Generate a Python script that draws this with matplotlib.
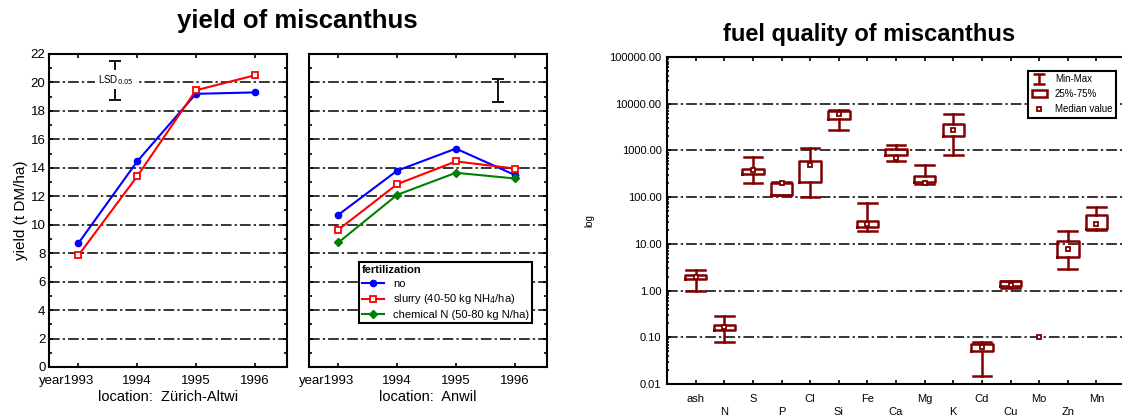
import numpy as np
import matplotlib
matplotlib.use('Agg')
import matplotlib.pyplot as plt
from matplotlib.patches import Patch
from matplotlib.lines import Line2D
from matplotlib.ticker import MultipleLocator, LogLocator, FixedLocator, NullFormatter
from matplotlib.transforms import ScaledTranslation

plt.rcParams['font.family'] = ['Liberation Sans', 'DejaVu Sans']

# yield data (t DM/ha)
years = [1993, 1994, 1995, 1996]
zurich_no = [8.7, 14.45, 19.2, 19.3]
zurich_slurry = [7.85, 13.4, 19.45, 20.5]
anwil_no = [10.7, 13.8, 15.35, 13.5]
anwil_slurry = [9.65, 12.85, 14.45, 13.95]
anwil_chem = [8.75, 12.1, 13.65, 13.25]
lsd_zurich = (1993.63, 18.8, 21.5)
lsd_anwil = (1995.71, 18.6, 20.25)

# fuel quality data
elements = ['ash', 'N', 'S', 'P', 'Cl', 'Si', 'Fe', 'Ca', 'Mg', 'K', 'Cd', 'Cu', 'Mo', 'Zn', 'Mn']
mins = [1.0, 0.078, 199, 109, 100, 2800, 19, 585, 192, 780, 0.015, 1.12, 0.1, 2.94, 20]
q1s = [1.77, 0.141, 316, 110, 215, 4600, 22.6, 780, 209, 2040, 0.052, 1.26, 0.1, 5.3, 21]
q3s = [2.2, 0.186, 400, 205, 585, 7100, 31.5, 1070, 290, 3750, 0.073, 1.6, 0.1, 11.6, 42]
maxs = [2.7, 0.28, 710, 210, 1140, 7400, 75, 1280, 480, 6100, 0.078, 1.63, 0.1, 19, 61]
medians = [2.0, 0.166, 380, 199, 480, 6100, 27, 700, 199, 2800, 0.062, 1.32, 0.1, 7.8, 26]

grid_ls = (0, (7, 2, 1.5, 2))
dark = '#800000'

fig = plt.figure(figsize=(11.22, 4.15), dpi=100)
ax1 = fig.add_axes([0.0437, 0.1157, 0.2121, 0.7542])
ax2 = fig.add_axes([0.2754, 0.1157, 0.2121, 0.7542])
ax3 = fig.add_axes([0.5945, 0.0747, 0.4082, 0.788])


def style_yield(ax, xlabel):
    ax.set_xlim(1992.5, 1996.55)
    ax.set_ylim(0, 22)
    ax.set_xticks(years)
    ax.set_xticklabels(['year1993'] + [str(y) for y in years[1:]])
    ax.yaxis.set_major_locator(MultipleLocator(2))
    ax.yaxis.set_minor_locator(MultipleLocator(1))
    ax.tick_params(which='both', direction='in', top=True, right=True, labelsize=9.5, width=1.2)
    ax.tick_params(which='major', length=3, pad=2.5)
    ax.tick_params(axis='x', which='major', pad=6)
    ax.tick_params(which='minor', length=2)
    ax.grid(axis='y', which='major', color='black', linestyle=grid_ls, linewidth=1.1)
    ax.set_axisbelow(True)
    for sp in ax.spines.values():
        sp.set_linewidth(1.5)
    ax.set_xlabel(xlabel, fontsize=10.5, labelpad=2)
    # "year" hangs to the left of the first year
    lab = ax.get_xticklabels()[0]
    lab.set_transform(lab.get_transform() + ScaledTranslation(-0.115, 0, fig.dpi_scale_trans))


def lsd_bar(ax, x, lo, hi):
    ax.errorbar([x], [(lo + hi) / 2], yerr=[(hi - lo) / 2], fmt='none', ecolor='black',
                elinewidth=1.3, capsize=4, capthick=1.3, zorder=5)


# Zurich
ax1.plot(years, zurich_no, color='#0000ff', lw=1.5, marker='o', ms=4.5)
ax1.plot(years, zurich_slurry, color='#ff0000', lw=1.5, marker='s', ms=4.5, mfc='white', mew=1.3)
lsd_bar(ax1, *lsd_zurich)
ax1.text(lsd_zurich[0], 20.2, r'LSD$_{0.05}$', ha='center', va='center', fontsize=7,
         bbox=dict(facecolor='white', edgecolor='none', pad=2), zorder=6)
style_yield(ax1, 'location:  Zürich-Altwi')
ax1.set_ylabel('yield (t DM/ha)', fontsize=11, labelpad=2)

# Anwil
ax2.plot(years, anwil_no, color='#0000ff', lw=1.5, marker='o', ms=4.5, label='no')
ax2.plot(years, anwil_slurry, color='#ff0000', lw=1.5, marker='s', ms=4.5, mfc='white', mew=1.3,
         label='slurry (40-50 kg NH$_4$/ha)')
ax2.plot(years, anwil_chem, color='#008000', lw=1.5, marker='D', ms=4, label='chemical N (50-80 kg N/ha)')
lsd_bar(ax2, *lsd_anwil)
style_yield(ax2, 'location:  Anwil')
ax2.tick_params(labelleft=False)
leg = ax2.legend(loc='lower left', bbox_to_anchor=(0.21, 0.14), fontsize=8, title='fertilization',
                 title_fontproperties={'weight': 'bold', 'size': 8}, fancybox=False,
                 edgecolor='black', framealpha=1, handlelength=2, handletextpad=0.8,
                 borderpad=0.25, labelspacing=0.35, borderaxespad=0)
leg._legend_box.align = 'left'
leg.get_frame().set_linewidth(1.5)

fig.text(0.265, 0.95, 'yield of miscanthus', ha='center', va='center', fontsize=18.5, fontweight='bold')

# fuel quality boxes
positions = list(range(1, len(elements) + 1))
stats = []
box_pos = []
for i in range(len(elements)):
    if maxs[i] > mins[i]:
        stats.append(dict(med=medians[i], q1=q1s[i], q3=q3s[i], whislo=mins[i], whishi=maxs[i], fliers=[]))
        box_pos.append(positions[i])
props = dict(color=dark, linewidth=1.8)
ax3.bxp(stats, positions=box_pos, widths=0.75, capwidths=0.65, showfliers=False,
        boxprops=props, whiskerprops=props, capprops=props,
        medianprops=dict(linewidth=0), manage_ticks=False)
ax3.plot(positions, medians, ls='none', marker='s', ms=3.5, mfc='white', mec=dark, mew=1.3)

ax3.set_yscale('log')
ax3.set_ylim(0.01, 100000)
ax3.set_xlim(0, 16)
yt = [0.01, 0.1, 1, 10, 100, 1000, 10000, 100000]
ax3.yaxis.set_major_locator(FixedLocator(yt))
ax3.set_yticklabels(['%.2f' % v for v in yt])
ax3.yaxis.set_minor_locator(LogLocator(base=10, subs=np.arange(2, 10)))
ax3.yaxis.set_minor_formatter(NullFormatter())
ax3.set_xticks(positions)
ax3.set_xticklabels([e if i % 2 == 0 else '\n' + e for i, e in enumerate(elements)], linespacing=1.4)
ax3.tick_params(which='both', direction='in', top=True, labelsize=8, width=1.2)
ax3.tick_params(which='major', length=3, pad=4)
ax3.tick_params(axis='x', which='major', pad=7)
ax3.tick_params(which='minor', length=1.5)
ax3.grid(axis='y', which='major', color='black', linestyle=grid_ls, linewidth=1.1)
ax3.set_axisbelow(True)
for sp in ax3.spines.values():
    sp.set_linewidth(1.5)
ax3.set_ylabel('log', fontsize=7, labelpad=11)

eb = ax3.errorbar([np.nan], [np.nan], yerr=[1], fmt='none', ecolor=dark, elinewidth=1.8,
                  capsize=4, capthick=1.8)
handles = [eb, Patch(facecolor='white', edgecolor=dark, linewidth=1.8),
           Line2D([], [], ls='none', marker='s', ms=3.5, mfc='white', mec=dark, mew=1.3)]
leg3 = ax3.legend(handles, ['Min-Max', '25%-75%', 'Median value'], loc='upper right',
                  bbox_to_anchor=(0.98, 0.957), fontsize=7, fancybox=False, edgecolor='black',
                  framealpha=1, handlelength=1.6, borderpad=0.35, labelspacing=0.5, borderaxespad=0)
leg3.get_frame().set_linewidth(1.5)

fig.text(0.775, 0.916, 'fuel quality of miscanthus', ha='center', va='center', fontsize=17,
         fontweight='bold')

plt.savefig('out.png', dpi=100)
